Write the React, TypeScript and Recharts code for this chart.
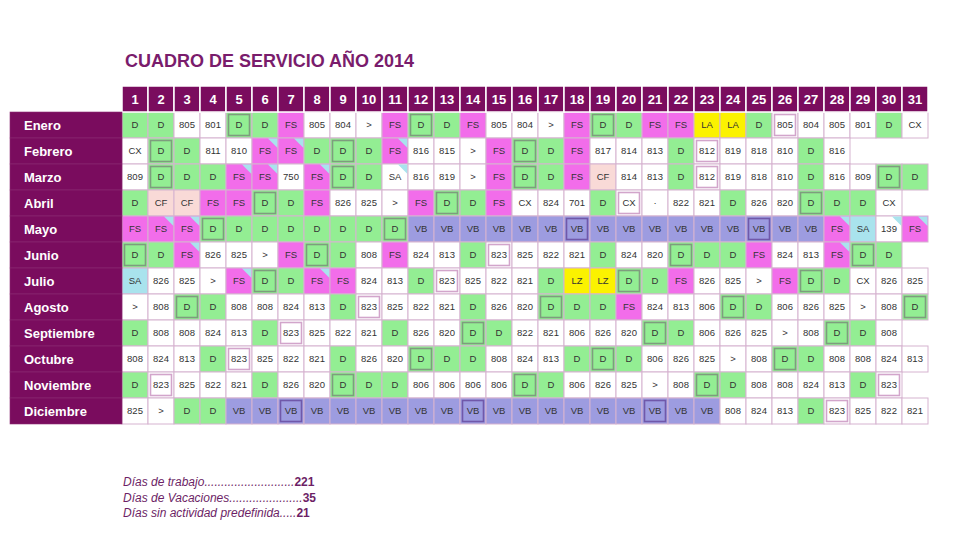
import React from 'react';
import { ScatterChart, Scatter, XAxis, YAxis } from 'recharts';

const TITLE = 'CUADRO DE SERVICIO AÑO 2014';
const MONTHS = ['Enero', 'Febrero', 'Marzo', 'Abril', 'Mayo', 'Junio', 'Julio', 'Agosto', 'Septiembre', 'Octubre', 'Noviembre', 'Diciembre'];
const DAYS = [1, 2, 3, 4, 5, 6, 7, 8, 9, 10, 11, 12, 13, 14, 15, 16, 17, 18, 19, 20, 21, 22, 23, 24, 25, 26, 27, 28, 29, 30, 31];

const ENERO = ['D', 'D', '805', '801', 'D', 'D', 'FS', '805', '804', '>', 'FS', 'D', 'D', 'FS', '805', '804', '>', 'FS', 'D', 'D', 'FS', 'FS', 'LA', 'LA', 'D', '805', '804', '805', '801', 'D', 'CX'];
const FEBRERO = ['CX', 'D', 'D', '811', '810', 'FS', 'FS', 'D', 'D', 'D', 'FS', '816', '815', '>', 'FS', 'D', 'D', 'FS', '817', '814', '813', 'D', '812', '819', '818', '810', 'D', '816'];
const MARZO = ['809', 'D', 'D', 'D', 'FS', 'FS', '750', 'FS', 'D', 'D', 'SA', '816', '819', '>', 'FS', 'D', 'D', 'FS', 'CF', '814', '813', 'D', '812', '819', '818', '810', 'D', '816', '809', 'D', 'D'];
const ABRIL = ['D', 'CF', 'CF', 'FS', 'FS', 'D', 'D', 'FS', '826', '825', '>', 'FS', 'D', 'D', 'FS', 'CX', '824', '701', 'D', 'CX', '·', '822', '821', 'D', '826', '820', 'D', 'D', 'D', 'CX'];
const MAYO = ['FS', 'FS', 'FS', 'D', 'D', 'D', 'D', 'D', 'D', 'D', 'D', 'VB', 'VB', 'VB', 'VB', 'VB', 'VB', 'VB', 'VB', 'VB', 'VB', 'VB', 'VB', 'VB', 'VB', 'VB', 'VB', 'FS', 'SA', '139', 'FS'];
const JUNIO = ['D', 'D', 'FS', '826', '825', '>', 'FS', 'D', 'D', '808', 'FS', '824', '813', 'D', '823', '825', '822', '821', 'D', '824', '820', 'D', 'D', 'D', 'FS', '824', '813', 'FS', 'D', 'D'];
const JULIO = ['SA', '826', '825', '>', 'FS', 'D', 'D', 'FS', 'FS', '824', '813', 'D', '823', '825', '822', '821', 'D', 'LZ', 'LZ', 'D', 'D', 'FS', '826', '825', '>', 'FS', 'D', 'D', 'CX', '826', '825'];
const AGOSTO = ['>', '808', 'D', 'D', '808', '808', '824', '813', 'D', '823', '825', '822', '821', 'D', '826', '820', 'D', 'D', 'D', 'FS', '824', '813', '806', 'D', 'D', '806', '826', '825', '>', '808', 'D'];
const SEPTIEMBRE = ['D', '808', '808', '824', '813', 'D', '823', '825', '822', '821', 'D', '826', '820', 'D', 'D', '822', '821', '806', '826', '820', 'D', 'D', '806', '826', '825', '>', '808', 'D', 'D', '808'];
const OCTUBRE = ['808', '824', '813', 'D', '823', '825', '822', '821', 'D', '826', '820', 'D', 'D', 'D', '808', '824', '813', 'D', 'D', 'D', '806', '826', '825', '>', '808', 'D', 'D', '808', '808', '824', '813'];
const NOVIEMBRE = ['D', '823', '825', '822', '821', 'D', '826', '820', 'D', 'D', 'D', '806', '806', '806', '806', 'D', 'D', '806', '826', '825', '>', '808', 'D', 'D', '808', '808', '824', '813', 'D', '823'];
const DICIEMBRE = ['825', '>', 'D', 'D', 'VB', 'VB', 'VB', 'VB', 'VB', 'VB', 'VB', 'VB', 'VB', 'VB', 'VB', 'VB', 'VB', 'VB', 'VB', 'VB', 'VB', 'VB', 'VB', '808', '824', '813', 'D', '823', '825', '822', '821'];

const SCHEDULE = [ENERO, FEBRERO, MARZO, ABRIL, MAYO, JUNIO, JULIO, AGOSTO, SEPTIEMBRE, OCTUBRE, NOVIEMBRE, DICIEMBRE];

// [month, day] cells with a small cyan corner
const CORNER_CELLS = [[2, 6], [2, 7], [2, 11], [3, 5], [3, 6], [3, 8], [3, 11], [5, 2], [5, 3], [5, 28], [5, 30], [5, 31], [6, 3], [6, 28], [7, 5], [7, 8]];
// [month, day] cells whose code is coloured but the cell is left white
const PLAIN_CELLS = [[3, 11]];

const SUMMARY_LABELS = ['Días de trabajo', 'Días de Vacaciones', 'Días sin actividad predefinida'];
const SUMMARY_DOTS = ['...........................', '......................', '.....'];
const SUMMARY_VALUES = ['221', '35', '21'];

const PURPLE = '#7a0c5e';
const FILLS: Record<string, string> = {
  D: '#93ee93',
  FS: '#f26dea',
  VB: '#9d9ce0',
  LA: '#fbf200',
  LZ: '#fbf200',
  CF: '#f9dad7',
  SA: '#a9e3ed',
};
const CELL = 26;
const FONT = '"Liberation Sans", Arial, Helvetica, sans-serif';

const cells = SCHEDULE.flatMap((row, mi) =>
  row.map((code, di) => {
    const m = mi + 1;
    const day = di + 1;
    const plain = PLAIN_CELLS.some(([a, b]) => a === m && b === day);
    return {
      m,
      day,
      code,
      fill: plain ? '#ffffff' : FILLS[code] ?? '#ffffff',
      boxed: new Date(2014, mi, day).getDay() === 0,
      corner: CORNER_CELLS.some(([a, b]) => a === m && b === day),
    };
  })
);

function CellShape(props: any) {
  const { cx, cy, payload } = props;
  if (cx == null || cy == null) return null;
  const h = CELL / 2;
  const x = cx - h;
  const y = cy - h;
  const boxStroke =
    payload.fill === '#ffffff' ? '#d2a5cb' : payload.code === 'VB' ? '#7058aa' : '#7e9d7e';
  return (
    <g>
      <rect x={x} y={y} width={CELL} height={CELL} fill={payload.fill} stroke="#d6b3d0" strokeWidth={1} />
      {payload.corner && (
        <polygon
          points={`${x + CELL - 10},${y + 0.5} ${x + CELL - 0.5},${y + 0.5} ${x + CELL - 0.5},${y + 10}`}
          fill="#a9e3ed"
        />
      )}
      {payload.boxed && (
        <rect x={x + 2.5} y={y + 2.5} width={CELL - 5} height={CELL - 5} fill="none" stroke={boxStroke} strokeWidth={1.6} />
      )}
      <text x={cx} y={cy} dy="0.35em" textAnchor="middle" fontSize={9.5} fill="#333" fontFamily={FONT}>
        {payload.code}
      </text>
    </g>
  );
}

function DayTick(props: any) {
  const { x, y, payload } = props;
  return (
    <g>
      <rect x={x - CELL / 2} y={y - CELL} width={CELL} height={CELL} fill={PURPLE} stroke="#ffffff" strokeWidth={1.5} />
      <text x={x} y={y - CELL / 2} dy="0.36em" textAnchor="middle" fill="#ffffff" fontWeight="bold" fontSize={13} fontFamily={FONT}>
        {payload.value}
      </text>
    </g>
  );
}

function MonthTick(props: any) {
  const { x, y, payload } = props;
  return (
    <g>
      <rect x={x - 112} y={y - CELL / 2} width={112} height={CELL} fill={PURPLE} stroke="#8d2c73" strokeWidth={0.6} />
      <text x={x - 98} y={y} dy="0.36em" fill="#ffffff" fontWeight="bold" fontSize={13} fontFamily={FONT}>
        {MONTHS[payload.value - 1]}
      </text>
    </g>
  );
}

export default function App() {
  return (
    <div style={{ position: 'absolute', left: 0, top: 0, width: 960, height: 540, background: '#ffffff', fontFamily: FONT, overflow: 'hidden' }}>
      <div
        style={{
          position: 'absolute',
          left: 125,
          top: 52,
          fontSize: 18,
          lineHeight: '18px',
          fontWeight: 'bold',
          color: '#7a1c6c',
          whiteSpace: 'nowrap',
        }}
      >
        {TITLE}
      </div>
      <div style={{ position: 'absolute', left: 0, top: 0 }}>
        <ScatterChart width={960} height={540} margin={{ top: 86, right: 32, bottom: 116, left: 10 }}>
          <XAxis
            type="number"
            dataKey="day"
            domain={[0.5, 31.5]}
            ticks={DAYS}
            interval={0}
            orientation="top"
            height={26}
            tickSize={0}
            tickMargin={0}
            axisLine={false}
            tickLine={false}
            tick={<DayTick />}
          />
          <YAxis
            type="number"
            dataKey="m"
            domain={[0.5, 12.5]}
            ticks={MONTHS.map((_, i) => i + 1)}
            interval={0}
            reversed
            width={112}
            tickSize={0}
            tickMargin={0}
            axisLine={false}
            tickLine={false}
            tick={<MonthTick />}
          />
          <Scatter data={cells} shape={(p: any) => <CellShape {...p} />} isAnimationActive={false} />
        </ScatterChart>
      </div>
      <div
        style={{
          position: 'absolute',
          left: 123,
          top: 475,
          fontSize: 12,
          lineHeight: '15.5px',
          color: '#6d1f66',
          whiteSpace: 'nowrap',
        }}
      >
        {SUMMARY_LABELS.map((label, i) => (
          <div key={label}>
            <span style={{ fontStyle: 'italic' }}>
              {label}
              {SUMMARY_DOTS[i]}
            </span>
            <span style={{ fontWeight: 'bold' }}>{SUMMARY_VALUES[i]}</span>
          </div>
        ))}
      </div>
    </div>
  );
}
